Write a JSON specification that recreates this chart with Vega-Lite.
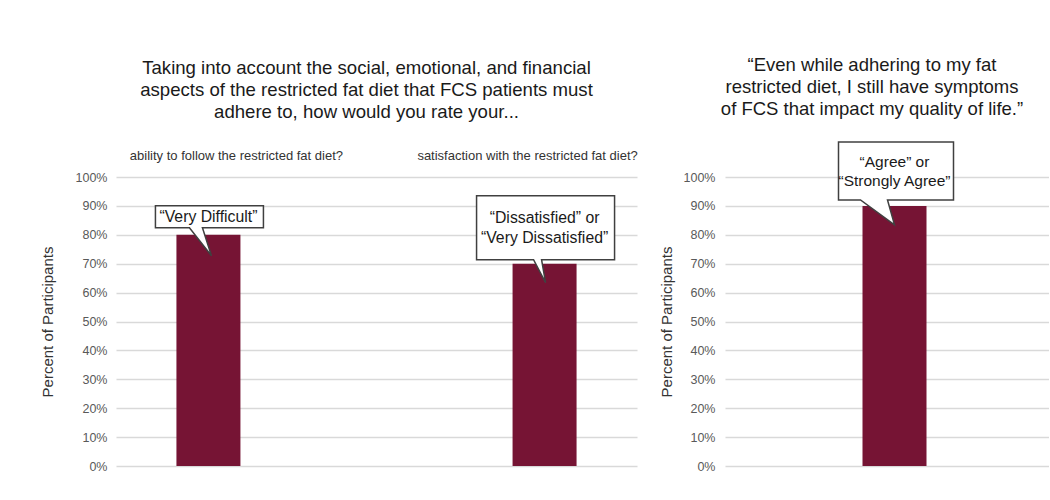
{
  "$schema": "https://vega.github.io/schema/vega-lite/v6.json",
  "background": "white",
  "padding": {"left": 40, "top": 56, "right": 0, "bottom": 0},
  "bounds": "flush",
  "spacing": 88,
  "config": {
    "font": "Liberation Sans",
    "view": {"stroke": null}
  },
  "hconcat": [
    {
      "width": 521,
      "height": 289,
      "title": {
        "text": ["Taking into account the social, emotional, and financial", "aspects of the restricted fat diet that FCS patients must", "adhere to, how would you rate your..."],
        "fontSize": 18.6,
        "fontWeight": "normal",
        "lineHeight": 22,
        "color": "#1a1a1a",
        "anchor": "middle",
        "offset": 27,
        "dx": -10
      },
      "data": {
        "values": [
          {"item": "ability to follow the restricted fat diet?", "value": 80, "callout": "“Very Difficult”"},
          {"item": "satisfaction with the restricted fat diet?", "value": 70, "callout": "“Dissatisfied” or\n“Very Dissatisfied”"}
        ]
      },
      "encoding": {
        "x": {
          "field": "item",
          "type": "nominal",
          "sort": null,
          "scale": {"paddingInner": 0.81, "paddingOuter": 0.18},
          "axis": {
            "orient": "top",
            "title": null,
            "labelAngle": 0,
            "ticks": false,
            "domain": false,
            "grid": false,
            "labelPadding": 15,
            "labelFontSize": 13,
            "labelColor": "#333333",
            "labelLimit": 400,
            "labelOffset": {"condition": {"test": "datum.value === 'ability to follow the restricted fat diet?'", "value": 28}, "value": -17}
          }
        },
        "y": {
          "field": "value",
          "type": "quantitative",
          "scale": {"domain": [0, 100]},
          "axis": {
            "title": "Percent of Participants",
            "titleFontSize": 15,
            "titleFontWeight": "normal",
            "titleColor": "#333333",
            "titlePadding": 20,
            "values": [0, 10, 20, 30, 40, 50, 60, 70, 80, 90, 100],
            "labelExpr": "datum.value + '%'",
            "labelFontSize": 12.5,
            "labelColor": "#595959",
            "labelPadding": 9,
            "ticks": false,
            "domain": false,
            "grid": true,
            "gridColor": "#d9d9d9",
            "gridWidth": 1.5
          }
        }
      },
      "layer": [
        {"mark": {"type": "bar", "color": "#761434", "width": 64}},
        {
          "transform": [{"filter": "datum.value === 80"}],
          "mark": {"type": "point", "shape": "M-53,-29H55V-7H-6L3,21L-19,-7H-53Z", "size": 4, "filled": true, "fill": "white", "stroke": "#404040", "strokeWidth": 1.5, "opacity": 1}
        },
        {
          "transform": [{"filter": "datum.value === 80"}],
          "mark": {"type": "text", "dy": -18, "fontSize": 15.8, "color": "#1a1a1a", "baseline": "middle", "lineBreak": "\n", "lineHeight": 20},
          "encoding": {"text": {"field": "callout"}}
        },
        {
          "transform": [{"filter": "datum.value === 70"}],
          "mark": {"type": "point", "shape": "M-68,-68H70V-4H-3L1,19L-11,-4H-68Z", "size": 4, "filled": true, "fill": "white", "stroke": "#404040", "strokeWidth": 1.5, "opacity": 1}
        },
        {
          "transform": [{"filter": "datum.value === 70"}],
          "mark": {"type": "text", "dy": -46, "fontSize": 15.8, "color": "#1a1a1a", "baseline": "middle", "lineBreak": "\n", "lineHeight": 20},
          "encoding": {"text": {"field": "callout"}}
        }
      ]
    },
    {
      "width": 324,
      "height": 289,
      "title": {
        "text": ["“Even while adhering to my fat", "restricted diet, I still have symptoms", "of FCS that impact my quality of life.”"],
        "fontSize": 18.5,
        "fontWeight": "normal",
        "lineHeight": 22,
        "color": "#1a1a1a",
        "anchor": "middle",
        "offset": 20,
        "dx": -15
      },
      "data": {
        "values": [
          {"item": "symptoms", "value": 90, "callout": "“Agree” or\n“Strongly Agree”"}
        ]
      },
      "encoding": {
        "x": {
          "field": "item",
          "type": "nominal",
          "scale": {"paddingInner": 0.8, "paddingOuter": 0},
          "axis": null
        },
        "y": {
          "field": "value",
          "type": "quantitative",
          "scale": {"domain": [0, 100]},
          "axis": {
            "title": "Percent of Participants",
            "titleFontSize": 15,
            "titleFontWeight": "normal",
            "titleColor": "#333333",
            "titlePadding": 9,
            "values": [0, 10, 20, 30, 40, 50, 60, 70, 80, 90, 100],
            "labelExpr": "datum.value + '%'",
            "labelFontSize": 12.5,
            "labelColor": "#595959",
            "labelPadding": 10,
            "ticks": false,
            "domain": false,
            "grid": true,
            "gridColor": "#d9d9d9",
            "gridWidth": 1.5
          }
        }
      },
      "layer": [
        {"mark": {"type": "bar", "color": "#761434", "width": 64, "xOffset": 7.5}},
        {
          "mark": {"type": "point", "shape": "M-56,-64H59V-6H-7L0,19L-34,-6H-56Z", "size": 4, "filled": true, "fill": "white", "stroke": "#404040", "strokeWidth": 1.5, "opacity": 1, "xOffset": 7.5}
        },
        {
          "mark": {"type": "text", "dy": -44, "dx": 7.5, "fontSize": 15.5, "color": "#1a1a1a", "baseline": "middle", "lineBreak": "\n", "lineHeight": 19},
          "encoding": {"text": {"field": "callout"}}
        }
      ]
    }
  ]
}
